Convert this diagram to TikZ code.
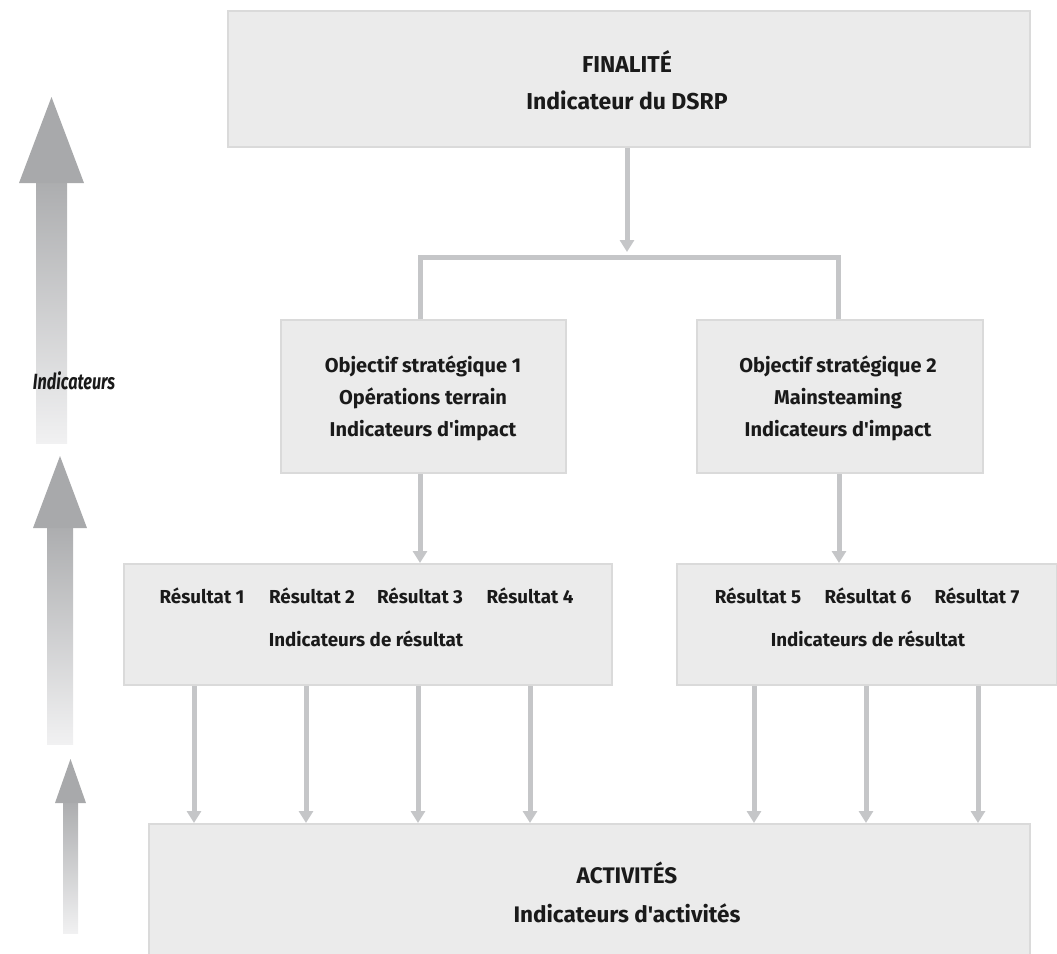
\documentclass[tikz,border=0pt]{standalone}
\usepackage{fontspec}
\setmainfont{Fira Sans}[Ligatures=TeXOff]
\newfontfamily\indfont{Fira Sans Bold Italic}[FakeStretch=0.74]
\usetikzlibrary{arrows.meta}
\definecolor{boxfill}{HTML}{EBEBEB}
\definecolor{boxline}{HTML}{DADADA}
\definecolor{conncol}{HTML}{C5C6C8}
\definecolor{txt}{HTML}{1A1A1A}
\definecolor{arrdark}{HTML}{A8A9AB}
\definecolor{arrlight}{HTML}{F1F1F2}
\tikzset{
  box/.style={draw=boxline, fill=boxfill, line width=2pt, rectangle, inner sep=0pt},
  conn/.style={draw=conncol, line width=5pt},
  connarrow/.style={conn, -{Triangle[width=14pt,length=12pt]}},
  lbl/.style={text=txt, font=\fontsize{20}{32}\selectfont\bfseries, align=center, inner sep=0pt},
  reslbl/.style={text=txt, font=\fontsize{18.8}{24}\selectfont\bfseries, inner sep=0pt},
  biglbl/.style={text=txt, align=center, inner sep=0pt},
}
\begin{document}
\begin{tikzpicture}[x=1pt,y=-1pt]
\useasboundingbox (0,0) rectangle (1057,953);
\clip (0,0) rectangle (1057,953);
% side arrows
\shade[top color=arrdark!95, bottom color=arrlight] (36,182) rectangle (67,443);
\fill[arrdark] (51.5,97) -- (84,183) -- (19,183) -- cycle;
\shade[top color=arrdark!95, bottom color=arrlight] (47,527) rectangle (73,744);
\fill[arrdark] (60,456) -- (87,528) -- (33,528) -- cycle;
\shade[top color=arrdark!95, bottom color=arrlight] (63,802) rectangle (78,933);
\fill[arrdark] (70.5,759) -- (86,803) -- (55,803) -- cycle;
\node[text=txt, font=\indfont\fontsize{22}{26}\selectfont, inner sep=0pt] (ind) at (74,381) {Indicateurs};
% boxes
\node[box, minimum width=802pt, minimum height=136pt, anchor=north west] (fin) at (227,10) {};
\node[biglbl, font=\fontsize{23}{37}\selectfont\bfseries] (fintxt) at (627,80.5) {FINALITÉ\\Indicateur du DSRP};
\node[box, minimum width=285pt, minimum height=153pt, anchor=north west] (obj1) at (280,319) {};
\node[lbl] (obj1txt) at (423,398) {Objectif stratégique 1\\Opérations terrain\\Indicateurs d'impact};
\node[box, minimum width=286pt, minimum height=153pt, anchor=north west] (obj2) at (696,319) {};
\node[lbl] (obj2txt) at (838,398) {Objectif stratégique 2\\Mainsteaming\\Indicateurs d'impact};
\node[box, minimum width=488pt, minimum height=121pt, anchor=north west] (res1) at (123,563) {};
\node[box, minimum width=380pt, minimum height=121pt, anchor=north west] (res2) at (676,563) {};
\node[box, minimum width=881pt, minimum height=140pt, anchor=north west] (act) at (148,823) {};
\node[biglbl, font=\fontsize{22.5}{39}\selectfont\bfseries] (acttxt) at (627,892.5) {ACTIVITÉS\\Indicateurs d'activités};
% results labels
\node[reslbl] (r1) at (202,596) {Résultat 1};
\node[reslbl] (r2) at (312,596) {Résultat 2};
\node[reslbl] (r3) at (420,596) {Résultat 3};
\node[reslbl] (r4) at (530,596) {Résultat 4};
\node[reslbl] (ir1) at (366,639) {Indicateurs de résultat};
\node[reslbl] (r5) at (758,596) {Résultat 5};
\node[reslbl] (r6) at (868,596) {Résultat 6};
\node[reslbl] (r7) at (977,596) {Résultat 7};
\node[reslbl] (ir2) at (868,639) {Indicateurs de résultat};
% connectors
\coordinate (split) at (627,252);
\draw[connarrow] (fin.south -| split) -- (split);
\draw[conn] (obj1.north -| 420,0) -- (420,257) -- (838,257) -- (obj2.north -| 838,0);
\draw[connarrow] (obj1.south -| 420,0) -- (res1.north -| 420,0);
\draw[connarrow] (obj2.south -| 839,0) -- (res2.north -| 839,0);
\foreach \x in {194,306,418,530}{
  \draw[connarrow] (res1.south -| \x,0) -- (act.north -| \x,0);
}
\foreach \x in {754,866,978}{
  \draw[connarrow] (res2.south -| \x,0) -- (act.north -| \x,0);
}
\end{tikzpicture}
\end{document}
